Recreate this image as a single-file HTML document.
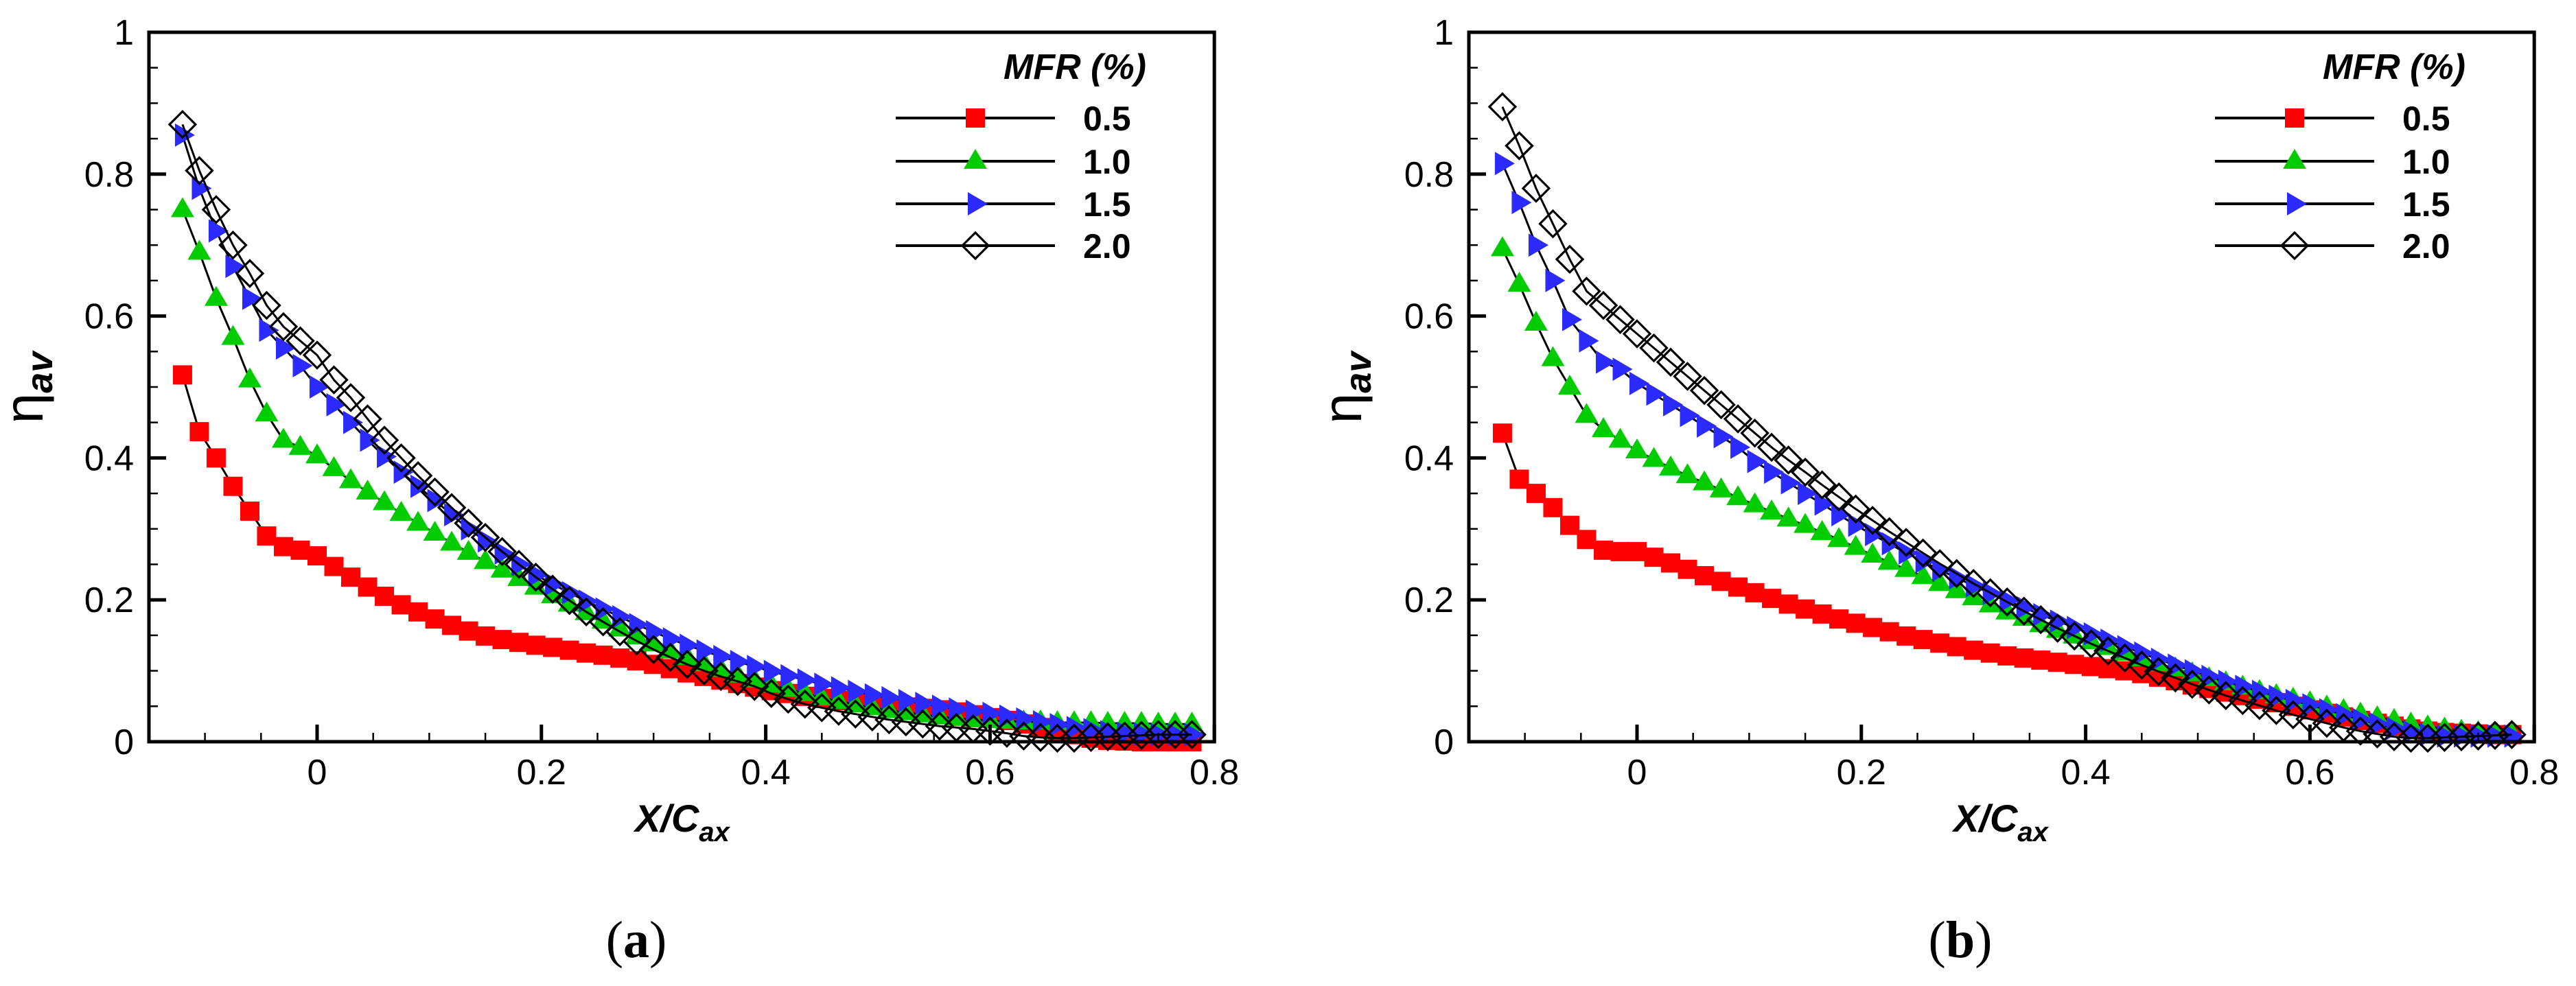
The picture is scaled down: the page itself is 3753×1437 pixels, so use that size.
<!DOCTYPE html>
<html><head><meta charset="utf-8"><style>
html,body{margin:0;padding:0;background:#fff;}
svg{display:block;}
text{font-family:"Liberation Sans",sans-serif;}
</style></head><body>
<svg id="fig" width="3753" height="1437" viewBox="0 0 3753 1437" xmlns="http://www.w3.org/2000/svg">
<rect width="3753" height="1437" fill="#fff"/>
</svg>
<script>
const xValues = [-0.12,-0.105,-0.09,-0.075,-0.06,-0.045,-0.03,-0.015,0,0.015,0.03,0.045,0.06,0.075,0.09,0.105,0.12,0.135,0.15,0.165,0.18,0.195,0.21,0.225,0.24,0.255,0.27,0.285,0.3,0.315,0.33,0.345,0.36,0.375,0.39,0.405,0.42,0.435,0.45,0.465,0.48,0.495,0.51,0.525,0.54,0.555,0.57,0.585,0.6,0.615,0.63,0.645,0.66,0.675,0.69,0.705,0.72,0.735,0.75,0.765,0.78];
const seriesLabels = ["0.5","1.0","1.5","2.0"];
const xTickLabels = ["0","0.2","0.4","0.6","0.8"];
const xTickValues = [0,0.2,0.4,0.6,0.8];
const yTickLabels = ["0","0.2","0.4","0.6","0.8","1"];
const yTickValues = [0,0.2,0.4,0.6,0.8,1];

const aRed = [0.517,0.437,0.40,0.36,0.325,0.29,0.275,0.27,0.262,0.247,0.232,0.218,0.205,0.193,0.183,0.173,0.164,0.156,0.149,0.144,0.14,0.136,0.133,0.129,0.125,0.122,0.118,0.114,0.109,0.103,0.097,0.092,0.087,0.082,0.077,0.072,0.068,0.064,0.061,0.058,0.055,0.053,0.051,0.049,0.047,0.045,0.042,0.038,0.034,0.03,0.025,0.02,0.015,0.01,0.005,0.002,0.001,0,0,0,0];
const aGreen = [0.75,0.69,0.625,0.57,0.51,0.462,0.425,0.415,0.403,0.385,0.368,0.352,0.337,0.322,0.308,0.294,0.28,0.267,0.254,0.242,0.23,0.218,0.206,0.194,0.182,0.17,0.159,0.148,0.138,0.128,0.119,0.11,0.102,0.094,0.087,0.08,0.074,0.068,0.062,0.057,0.052,0.048,0.044,0.041,0.038,0.035,0.033,0.031,0.03,0.029,0.028,0.028,0.027,0.027,0.027,0.026,0.026,0.026,0.025,0.025,0.025];
const aBlue = [0.855,0.78,0.72,0.67,0.625,0.58,0.555,0.53,0.5,0.475,0.45,0.425,0.402,0.38,0.36,0.34,0.32,0.3,0.283,0.266,0.25,0.235,0.222,0.21,0.198,0.187,0.176,0.165,0.155,0.145,0.136,0.128,0.12,0.113,0.106,0.099,0.093,0.087,0.081,0.076,0.071,0.066,0.062,0.058,0.054,0.05,0.046,0.043,0.04,0.036,0.032,0.028,0.024,0.02,0.017,0.014,0.012,0.011,0.01,0.01,0.01];
const aDiamond = [0.87,0.805,0.75,0.7,0.66,0.615,0.585,0.565,0.545,0.51,0.485,0.455,0.425,0.4,0.375,0.352,0.33,0.308,0.288,0.268,0.25,0.232,0.215,0.199,0.183,0.169,0.155,0.142,0.13,0.119,0.109,0.1,0.092,0.085,0.078,0.068,0.06,0.053,0.048,0.043,0.039,0.035,0.031,0.028,0.025,0.022,0.02,0.018,0.015,0.012,0.008,0.006,0.005,0.005,0.006,0.007,0.008,0.009,0.01,0.01,0.01];
const bRed = [0.435,0.37,0.35,0.33,0.305,0.285,0.27,0.268,0.268,0.26,0.252,0.243,0.234,0.226,0.218,0.21,0.202,0.194,0.187,0.18,0.173,0.167,0.161,0.155,0.149,0.144,0.139,0.134,0.129,0.125,0.121,0.118,0.115,0.112,0.109,0.106,0.103,0.1,0.096,0.091,0.086,0.08,0.075,0.07,0.065,0.06,0.055,0.05,0.045,0.04,0.035,0.03,0.026,0.022,0.018,0.015,0.013,0.012,0.011,0.01,0.01];
const bGreen = [0.695,0.645,0.59,0.54,0.5,0.46,0.44,0.425,0.41,0.398,0.386,0.375,0.365,0.355,0.344,0.334,0.324,0.314,0.305,0.295,0.285,0.274,0.263,0.253,0.243,0.233,0.223,0.213,0.203,0.193,0.183,0.174,0.165,0.157,0.149,0.141,0.133,0.125,0.117,0.11,0.103,0.096,0.089,0.083,0.077,0.071,0.065,0.06,0.055,0.049,0.044,0.039,0.034,0.03,0.025,0.021,0.018,0.015,0.013,0.011,0.01];
const bBlue = [0.815,0.76,0.70,0.65,0.595,0.565,0.535,0.525,0.505,0.49,0.475,0.46,0.445,0.43,0.415,0.395,0.38,0.365,0.35,0.335,0.32,0.305,0.292,0.279,0.266,0.254,0.242,0.231,0.22,0.209,0.199,0.189,0.179,0.17,0.161,0.152,0.143,0.134,0.125,0.116,0.108,0.1,0.092,0.085,0.078,0.071,0.064,0.058,0.052,0.045,0.038,0.031,0.025,0.019,0.014,0.01,0.008,0.008,0.008,0.008,0.008];
const bDiamond = [0.895,0.84,0.78,0.73,0.68,0.635,0.615,0.595,0.575,0.555,0.535,0.515,0.495,0.475,0.455,0.435,0.415,0.397,0.38,0.362,0.345,0.328,0.312,0.296,0.281,0.266,0.251,0.237,0.223,0.21,0.197,0.184,0.172,0.16,0.149,0.138,0.128,0.118,0.108,0.099,0.09,0.081,0.073,0.065,0.058,0.051,0.044,0.038,0.032,0.026,0.02,0.015,0.011,0.007,0.005,0.005,0.006,0.007,0.008,0.009,0.01];

const NS = "http://www.w3.org/2000/svg";
const svg = document.getElementById("fig");
function mk(tag, attrs, parent) {
  const e = document.createElementNS(NS, tag);
  for (const k in attrs) e.setAttribute(k, attrs[k]);
  (parent || svg).appendChild(e);
  return e;
}
const styles = [
  {kind:"square", fill:"#ff0000"},
  {kind:"tri", fill:"#00cc00"},
  {kind:"right", fill:"#2b2bff"},
  {kind:"diamond", fill:"none"}
];
function marker(g, kind, fill, cx, cy) {
  let e;
  if (kind === "square") e = mk("rect", {x:cx-14, y:cy-14, width:28, height:28, fill:fill}, g);
  else if (kind === "tri") e = mk("polygon", {points:`${cx},${cy-18} ${cx+17},${cy+11} ${cx-17},${cy+11}`, fill:fill}, g);
  else if (kind === "right") e = mk("polygon", {points:`${cx-11},${cy-17} ${cx+18},${cy} ${cx-11},${cy+17}`, fill:fill}, g);
  else e = mk("polygon", {points:`${cx},${cy-19} ${cx+19},${cy} ${cx},${cy+19} ${cx-19},${cy}`, fill:"#fff", "fill-opacity":"0", stroke:"#000", "stroke-width":3.2}, g);
  return e;
}

function panel(id, left, zeroX, dataSets, legX, xTitleX, yTitleX, capX, capLabel) {
  const right = zeroX + 0.8 * 1634, top = 47, bottom = 1081;
  const sx = v => zeroX + v * 1634;
  const sy = v => bottom - v * (bottom - top);
  const g = mk("g", {});
  
  

  dataSets.forEach((vals, si) => {
    const sg = mk("g", {}, g);
    
    
    const pts = xValues.map((x, i) => `${sx(x).toFixed(1)},${sy(vals[i]).toFixed(1)}`).join(" ");
    const ln = mk("polyline", {points:pts, fill:"none", stroke:"#000", "stroke-width":3}, sg);
    
    
    xValues.forEach((x, i) => {
      const m = marker(sg, styles[si].kind, styles[si].fill, sx(x), sy(vals[i]));
      
      
    });
  });

  const fr = mk("rect", {x:left, y:top, width:right-left, height:bottom-top, fill:"none", stroke:"#000", "stroke-width":5}, g);
  
  

  for (let k = 0; k <= 20; k++) {
    const v = k * 0.05, y = sy(v), major = k % 4 === 0;
    const t = mk("line", {x1:left, x2:left + (major ? 25 : 13), y1:y, y2:y, stroke:"#000", "stroke-width": major ? 5 : 2.5}, g);
    
    
  }
  yTickValues.forEach((v, i) => {
    const t = mk("text", {x:left - 22, y:sy(v) + 18, "text-anchor":"end", "font-size":52}, g);
    t.textContent = yTickLabels[i];
    
    
  });
  for (let k = -3; k <= 16; k++) {
    const v = k * 0.05, x = sx(v), major = k % 4 === 0;
    if (x < left + 2) continue;
    const t = mk("line", {x1:x, x2:x, y1:bottom, y2:bottom - (major ? 25 : 13), stroke:"#000", "stroke-width": major ? 5 : 2.5}, g);
    
    
  }
  xTickValues.forEach((v, i) => {
    const t = mk("text", {x:sx(v), y:1143, "text-anchor":"middle", "font-size":52}, g);
    t.textContent = xTickLabels[i];
    
    
  });

  const xt = mk("text", {x:xTitleX, y:1212, "text-anchor":"middle", "font-size":56, "font-weight":"bold", "font-style":"italic"}, g);
  xt.innerHTML = 'X/C<tspan font-size="40" dy="14">ax</tspan>';
  
  
  const yt = mk("text", {x:0, y:0, "text-anchor":"middle", "font-size":80, transform:`translate(${yTitleX},565) rotate(-90)`}, g);
  yt.innerHTML = 'η<tspan font-size="54" font-weight="bold" font-style="italic" dy="14">av</tspan>';
  
  

  const lg = mk("g", {}, g);
  
  
  const lt = mk("text", {x:legX + 157, y:115, "font-size":52, "font-weight":"bold", "font-style":"italic"}, lg);
  lt.textContent = "MFR (%)";
  
  
  const rows = [172, 235, 297, 358];
  seriesLabels.forEach((lab, si) => {
    const eg = mk("g", {}, lg);
    
    
    mk("line", {x1:legX, x2:legX + 232, y1:rows[si], y2:rows[si], stroke:"#000", "stroke-width":4}, eg);
    marker(eg, styles[si].kind, styles[si].fill, legX + 116, rows[si]);
    const tx = mk("text", {x:legX + 273, y:rows[si] + 18, "font-size":50, "font-weight":"bold"}, eg);
    tx.textContent = lab;
  });

  const cap = mk("text", {x:capX, y:1395, "text-anchor":"middle", "font-size":76, style:'font-family:"Liberation Serif",serif'}, g);
  cap.innerHTML = '(<tspan font-weight="bold">' + capLabel + '</tspan>)';
  
  
}

panel("a", 217, 462, [aRed, aGreen, aBlue, aDiamond], 1305, 994, 62, 927, "a");
panel("b", 2140, 2385, [bRed, bGreen, bBlue, bDiamond], 3227, 2915, 1983, 2856, "b");
</script>
</body></html>
